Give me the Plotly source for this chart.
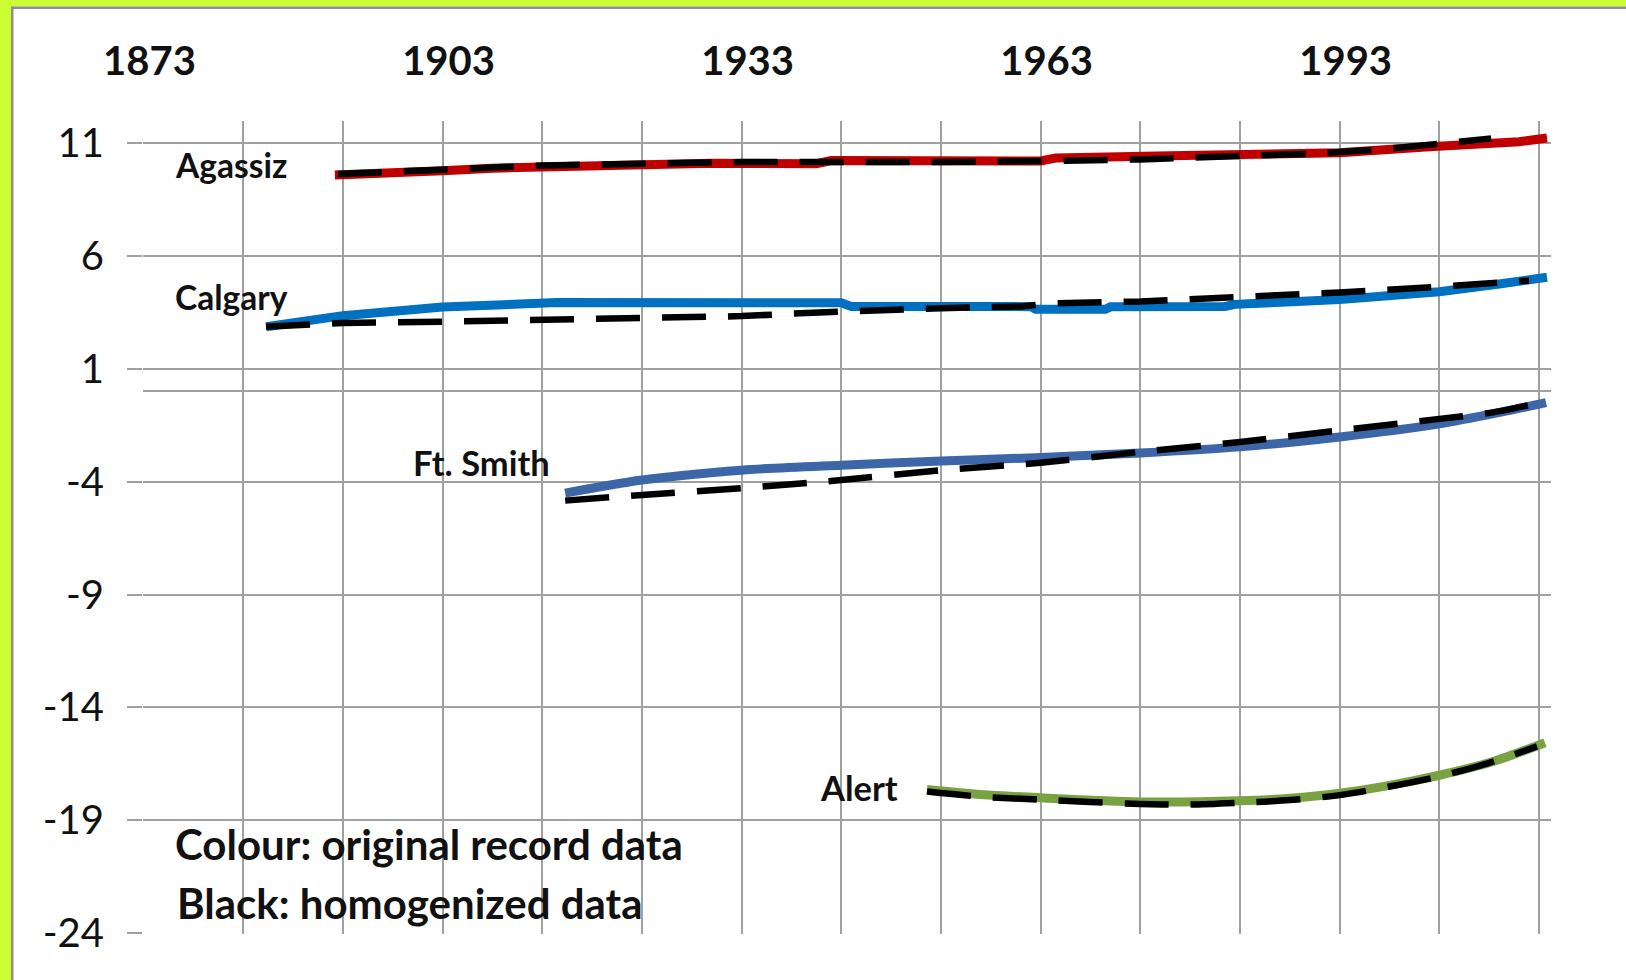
import plotly.graph_objects as go

# Annual mean temperature trends (°C) for four Canadian stations
agassiz_orig_years = [1892.2, 1898, 1903, 1908, 1913, 1923, 1930, 1940.5, 1942, 1963, 1964.5, 1976, 1983, 1993, 2002, 2008, 2011, 2013.8]
agassiz_orig_vals = [9.58, 9.65, 9.77, 9.88, 9.95, 10.05, 10.10, 10.08, 10.22, 10.20, 10.33, 10.43, 10.47, 10.56, 10.83, 10.98, 11.05, 11.22]
agassiz_homog_years = [1892.5, 1903, 1913, 1923, 1933, 1953, 1963, 1967, 1973, 1981, 1990, 1997.5, 2005, 2008.2]
agassiz_homog_vals = [9.62, 9.82, 10.0, 10.08, 10.15, 10.15, 10.16, 10.22, 10.27, 10.37, 10.52, 10.72, 11.05, 11.2]

calgary_orig_years = [1885.3, 1893, 1903, 1908, 1913, 1914.5, 1943, 1944, 1962, 1962.5, 1969.5, 1970, 1981.5, 1982.5, 1993, 2003, 2009, 2013.8]
calgary_orig_vals = [2.86, 3.35, 3.73, 3.85, 3.88, 3.93, 3.92, 3.76, 3.75, 3.63, 3.63, 3.74, 3.76, 3.85, 4.07, 4.41, 4.75, 5.05]
calgary_homog_years = [1885.3, 1893, 1903, 1913, 1923, 1933, 1939.5, 1947, 1953, 1961, 1964.5, 1973, 1983, 1993, 2002.5, 2008, 2012]
calgary_homog_vals = [2.86, 3.03, 3.08, 3.17, 3.22, 3.33, 3.47, 3.60, 3.68, 3.76, 3.90, 3.98, 4.15, 4.38, 4.62, 4.75, 4.90]

ftsmith_orig_years = [1915.3, 1923, 1933, 1943, 1953, 1963, 1973, 1983, 1993, 2003, 2009.2, 2013.7]
ftsmith_orig_vals = [-4.51, -3.93, -3.49, -3.27, -3.09, -2.93, -2.73, -2.46, -2.02, -1.44, -0.92, -0.50]
ftsmith_homog_years = [1915.3, 1923, 1933, 1943, 1953, 1963, 1973, 1983, 1993, 2003, 2008.5, 2012.5]
ftsmith_homog_vals = [-4.84, -4.59, -4.29, -3.93, -3.49, -3.16, -2.68, -2.24, -1.73, -1.22, -0.92, -0.56]

alert_orig_years = [1951.6, 1957, 1963, 1973, 1983, 1988, 1993, 1998, 2003, 2008.4, 2013.6]
alert_orig_vals = [-17.63, -17.85, -18.0, -18.18, -18.13, -18.02, -17.8, -17.45, -17.0, -16.39, -15.56]
alert_homog_years = [1951.6, 1957, 1963, 1973, 1978, 1983, 1988, 1993, 1998, 2003, 2008, 2012.8]
alert_homog_vals = [-17.72, -17.95, -18.08, -18.27, -18.3, -18.22, -18.1, -17.88, -17.5, -17.05, -16.45, -15.72]

x_grid_years = list(range(1873, 2014, 10))
x_label_years = [1873, 1903, 1933, 1963, 1993]
y_ticks = [-24, -19, -14, -9, -4, 1, 6, 11]
y_tick_text = ["-24", "-19", "-14", "-9", "-4", "1", "6", "11"]

W, H = 1626, 980
M_L, M_R, M_T, M_B = 143, 75, 121, 46
FONT = "Lato, Carlito, Calibri, sans-serif"
GRID = "#a0a0a0"

fig = go.Figure()

series = [
    (agassiz_orig_years, agassiz_orig_vals, agassiz_homog_years, agassiz_homog_vals, "#c00000", "linear"),
    (calgary_orig_years, calgary_orig_vals, calgary_homog_years, calgary_homog_vals, "#0070c0", "linear"),
    (ftsmith_orig_years, ftsmith_orig_vals, ftsmith_homog_years, ftsmith_homog_vals, "#3c66a8", "spline"),
    (alert_orig_years, alert_orig_vals, alert_homog_years, alert_homog_vals, "#79a343", "spline"),
]
for ox, oy, hx, hy, color, shape in series:
    fig.add_trace(go.Scatter(x=ox, y=oy, mode="lines",
                             line=dict(color=color, width=9, shape=shape, smoothing=0.8),
                             hoverinfo="skip", showlegend=False))
    fig.add_trace(go.Scatter(x=hx, y=hy, mode="lines",
                             line=dict(color="black", width=6.5, dash="44px,22px", shape=shape, smoothing=0.8),
                             hoverinfo="skip", showlegend=False))

labels = [
    ("Agassiz", 1881.8, 10.0, 33.5, "center"),
    ("Calgary", 1881.8, 4.17, 33.5, "center"),
    ("Ft. Smith", 1906.9, -3.17, 34.5, "center"),
    ("Alert", 1944.8, -17.53, 34.5, "center"),
    ("Colour: original record data", 1876.0, -20.05, 42, "left"),
    ("Black: homogenized data", 1876.2, -22.66, 42, "left"),
]
for txt, lx, ly, size, anchor in labels:
    fig.add_annotation(x=lx, y=ly, xref="x", yref="y", text=txt, showarrow=False,
                       xanchor=anchor, yanchor="middle",
                       font=dict(family=FONT, size=size, color="#111111", weight="bold"))

# frame around the page: green band with a thin grey inner edge
pw = W - M_L - M_R
ph = H - M_T - M_B


def px(xp):
    return (xp - M_L) / pw


def py(yp):
    return 1 - (yp - M_T) / ph


frame = [
    (0, 0, W, 6.5, "#ccff33"),
    (0, 0, 11, H, "#ccff33"),
    (11, 6.5, W, 9, "#8f8f8f"),
    (11, 6.5, 13.5, H, "#8f8f8f"),
]
for x0, y0, x1, y1, col in frame:
    fig.add_shape(type="rect", xref="paper", yref="paper",
                  x0=px(x0), x1=px(x1), y0=py(y1), y1=py(y0),
                  fillcolor=col, line=dict(width=0), layer="above")

fig.update_layout(
    width=W, height=H,
    margin=dict(l=M_L, r=M_R, t=M_T, b=M_B, pad=0),
    paper_bgcolor="white", plot_bgcolor="white",
    hovermode=False,
    xaxis=dict(
        range=[1872.95, 2014.2], side="top",
        tickvals=x_grid_years,
        ticktext=[str(y) if y in x_label_years else "" for y in x_grid_years],
        showgrid=True, gridcolor=GRID, gridwidth=2,
        ticks="", ticklabelstandoff=37, ticklabelshift=6,
        tickfont=dict(family=FONT, size=40, color="#111111", weight="bold"),
        zeroline=False, showline=False, fixedrange=True,
    ),
    yaxis=dict(
        range=[-24.03, 11.97],
        tickvals=y_ticks, ticktext=y_tick_text,
        showgrid=True, gridcolor=GRID, gridwidth=2,
        ticks="outside", ticklen=15, tickwidth=2, tickcolor=GRID,
        ticklabelstandoff=15,
        tickfont=dict(family=FONT, size=40, color="#111111"),
        zeroline=True, zerolinecolor=GRID, zerolinewidth=2,
        showline=False, fixedrange=True,
    ),
)

fig.write_html("out.html", config={"displayModeBar": False})
